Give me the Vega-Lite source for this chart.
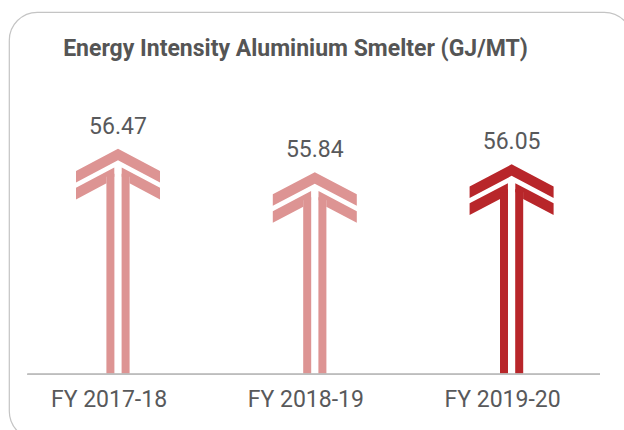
{
  "$schema": "https://vega.github.io/schema/vega-lite/v6.json",
  "width": 623,
  "height": 427,
  "autosize": {"type": "none"},
  "padding": {"left": 9, "top": 12, "right": -8, "bottom": -9},
  "background": "white",
  "config": {
    "view": {"stroke": "#c4c4c4", "strokeWidth": 1.2, "cornerRadius": 28, "fill": "white"},
    "font": "Roboto"
  },
  "title": {
    "text": "Energy Intensity Aluminium Smelter (GJ/MT)",
    "font": "Roboto",
    "fontSize": 23,
    "fontWeight": "bold",
    "color": "#555555",
    "anchor": "middle",
    "dx": -25,
    "offset": -67,
    "baseline": "alphabetic"
  },
  "data": {
    "values": [
      {"year": "FY 2017-18", "value": 56.47},
      {"year": "FY 2018-19", "value": 55.84},
      {"year": "FY 2019-20", "value": 56.05}
    ]
  },
  "encoding": {
    "x": {
      "field": "year",
      "type": "nominal",
      "sort": null,
      "scale": {"range": [10.6, 601], "paddingInner": 0, "paddingOuter": 0},
      "axis": {
        "orient": "bottom",
        "offset": -65,
        "domain": false,
        "ticks": false,
        "grid": false,
        "labelFontSize": 23,
        "labelColor": "#58595b",
        "labelFont": "Roboto",
        "labelPadding": 14,
        "labelAngle": 0,
        "labelOffset": -9,
        "title": null
      }
    },
    "y": {
      "field": "value",
      "type": "quantitative",
      "scale": {"domain": [48.64, 60.16], "nice": false, "zero": false},
      "axis": null
    },
    "color": {
      "field": "year",
      "type": "nominal",
      "scale": {"domain": ["FY 2017-18", "FY 2018-19", "FY 2019-20"], "range": ["#dd9493", "#dd9493", "#b8262a"]},
      "legend": null
    }
  },
  "layer": [
    {
      "mark": {"type": "bar", "width": 8, "xOffset": -7.6, "yOffset": 25},
      "encoding": {"y2": {"datum": 50.39}}
    },
    {
      "mark": {"type": "bar", "width": 8, "xOffset": 7.6, "yOffset": 25},
      "encoding": {"y2": {"datum": 50.39}}
    },
    {
      "mark": {
        "type": "point",
        "shape": "M0,0L42,22.2L42,33.7L0,11.5L-42,33.7L-42,22.2Z M-42,39L-3.7,18.8L-3.7,28L-11.5,28L-11.5,34.6L-42,50.7Z M42,39L3.7,18.8L3.7,28L11.5,28L11.5,34.6L42,50.7Z",
        "size": 4,
        "filled": true,
        "opacity": 1,
        "strokeWidth": 0
      }
    },
    {
      "mark": {"type": "text", "dy": -15, "baseline": "alphabetic", "fontSize": 23, "font": "Roboto"},
      "encoding": {
        "text": {"field": "value", "type": "quantitative", "format": ".2f"},
        "color": {"value": "#58595b"}
      }
    },
    {
      "mark": {"type": "rule", "strokeWidth": 1.5, "xOffset": -90.6, "x2Offset": 88.4},
      "encoding": {
        "x": {"datum": "FY 2017-18"},
        "x2": {"datum": "FY 2019-20"},
        "y": {"datum": 50.39},
        "color": {"value": "#bdbdbd"}
      }
    }
  ]
}
